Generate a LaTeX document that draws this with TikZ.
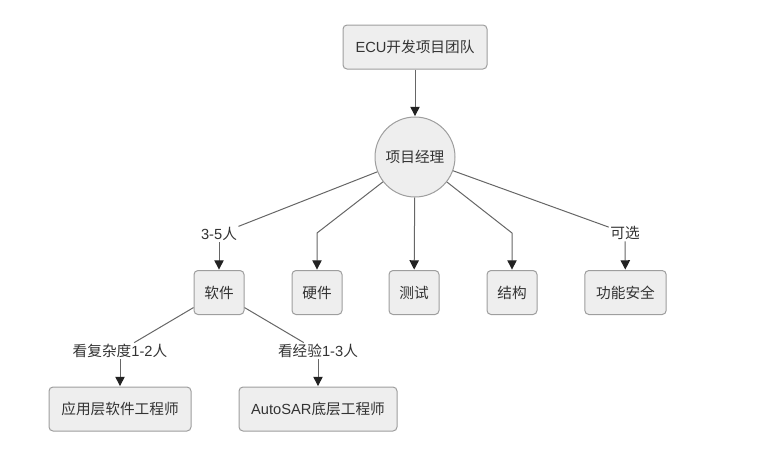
\documentclass[tikz,border=0pt]{standalone}
\usepackage{fontspec}
\setmainfont{Noto Sans CJK SC}
\newfontfamily\lat{Liberation Sans}
\usetikzlibrary{arrows.meta}
\definecolor{boxfill}{HTML}{EEEEEE}
\definecolor{boxline}{HTML}{9E9E9E}
\definecolor{edgecol}{HTML}{666666}
\definecolor{tipcol}{HTML}{222222}
\definecolor{txt}{HTML}{333333}
\tikzset{
  box/.style={draw=boxline, fill=boxfill, rounded corners=3pt, line width=0.75pt,
    minimum height=33pt, inner sep=0pt, text=txt, font=\fontsize{11pt}{13pt}\selectfont},
  pmcircle/.style={draw=boxline, fill=boxfill, circle, minimum size=60pt, inner sep=0pt,
    line width=0.75pt, text=txt, font=\fontsize{11pt}{13pt}\selectfont},
  lbl/.style={fill=white, inner sep=1pt, text=txt, font=\fontsize{11pt}{13pt}\selectfont},
  conn/.style={draw=edgecol, line width=0.75pt},
  arr/.style={conn, -{Triangle[width=7pt,length=7pt,color=tipcol]}, shorten >=0.3pt}
}
\begin{document}
\begin{tikzpicture}[x=0.75pt,y=-0.75pt]
\useasboundingbox (0,0) rectangle (784,454);
\node[box, minimum width=108pt] (ecu) at (415,47) {{\lat ECU}开发项目团队};
\node[pmcircle] (pm) at (415,157) {项目经理};
\node[box, minimum width=37.5pt] (sw) at (219,292.5) {软件};
\node[box, minimum width=37.5pt] (hw) at (317,292.5) {硬件};
\node[box, minimum width=37.5pt] (test) at (414,292.5) {测试};
\node[box, minimum width=37.5pt] (mech) at (512,292.5) {结构};
\node[box, minimum width=61pt] (fs) at (625.5,292.5) {功能安全};
\node[box, minimum width=106.5pt] (app) at (120,409) {应用层软件工程师};
\node[box, minimum width=118.5pt] (bsw) at (318,409) {{\lat AutoSAR}底层工程师};

\node[lbl] (l1) at (219,234) {{\lat 3-5}人};
\node[lbl] (l2) at (625,233) {可选};
\node[lbl] (l3) at (120,351) {看复杂度{\lat 1-2}人};
\node[lbl] (l4) at (318,351) {看经验{\lat 1-3}人};
\coordinate (c1) at (317,233);
\coordinate (c2) at (512,233);

\draw[arr] (ecu) -- (pm);
\draw[conn] (pm) -- (l1);
\draw[arr] (l1) -- (sw);
\draw[arr] (pm) -- (c1) -- (hw);
\draw[arr] (pm) -- (test);
\draw[arr] (pm) -- (c2) -- (mech);
\draw[conn] (pm) -- (l2);
\draw[arr] (l2) -- (fs);
\draw[conn] (sw) -- (l3);
\draw[arr] (l3) -- (app);
\draw[conn] (sw) -- (l4);
\draw[arr] (l4) -- (bsw);
\end{tikzpicture}
\end{document}
